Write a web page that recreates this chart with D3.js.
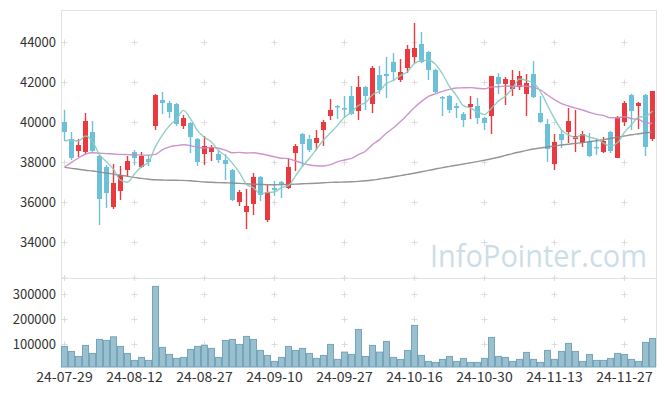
<!DOCTYPE html>
<html><head><meta charset="utf-8">
<script src="https://cdn.jsdelivr.net/npm/d3@7"></script>
<style>body{margin:0;background:#fff;} svg{display:block;font-family:"Noto Sans CJK KR","Noto Sans",sans-serif;}</style>
</head><body><svg id="c" width="665" height="396"></svg>
<script>
const dates=["24-07-29","24-07-30","24-07-31","24-08-01","24-08-02","24-08-05","24-08-06","24-08-07","24-08-08","24-08-09",
"24-08-12","24-08-13","24-08-14","24-08-16","24-08-19","24-08-20","24-08-21","24-08-22","24-08-23","24-08-26",
"24-08-27","24-08-28","24-08-29","24-08-30","24-09-02","24-09-03","24-09-04","24-09-05","24-09-06","24-09-09",
"24-09-10","24-09-11","24-09-12","24-09-13","24-09-19","24-09-20","24-09-23","24-09-24","24-09-25","24-09-26",
"24-09-27","24-09-30","24-10-02","24-10-04","24-10-07","24-10-08","24-10-10","24-10-11","24-10-14","24-10-15",
"24-10-16","24-10-17","24-10-18","24-10-21","24-10-22","24-10-23","24-10-24","24-10-25","24-10-28","24-10-29",
"24-10-30","24-10-31","24-11-01","24-11-04","24-11-05","24-11-06","24-11-07","24-11-08","24-11-11","24-11-12",
"24-11-13","24-11-14","24-11-15","24-11-18","24-11-19","24-11-20","24-11-21","24-11-22","24-11-25","24-11-26",
"24-11-27","24-11-28","24-11-29","24-12-02","24-12-03"];
const open=[40000,39150,38550,38500,39500,38300,37750,35750,36550,37600,
38500,37750,38150,39800,41100,40950,40900,39800,39950,39150,
38400,38500,38400,38100,37600,36000,35500,35900,37250,35100,
36700,37000,36700,38450,39400,39150,38950,39600,40300,40800,
40700,41300,40550,41750,40900,42350,42400,43000,42100,42700,
43250,43900,43500,42600,41250,41300,40800,40400,40750,40800,
40200,40300,42250,41900,41650,41750,41400,42400,40450,39900,
37900,39400,39500,39150,38950,39050,38750,38500,39500,38200,
40000,41350,40800,41350,39150];
const high=[40600,39500,39150,40450,40050,38350,37850,37900,37800,38300,
38600,38500,38300,41400,41500,41050,40950,40350,40000,39200,
39300,38850,38600,38400,37650,36600,36650,37450,37300,36850,
37050,37050,38200,38900,39450,39350,39600,40100,41150,40850,
41300,41800,42300,41800,42800,42800,43250,43450,43150,43850,
44950,44500,43550,42650,41300,41350,40950,40500,41300,41200,
40250,42300,42450,42250,42600,42550,42400,43050,41300,40150,
39400,39600,40700,40600,39550,39450,39150,39250,39550,40300,
41050,41400,41000,41400,41550];
const low=[39050,38100,38250,38400,38450,34850,35700,35650,36100,37300,
37850,37700,37800,39600,40400,40200,39800,39650,38450,37800,
37850,38050,37950,37100,36050,35800,34650,35350,36050,35000,
36300,36200,36650,37550,37750,38500,38600,38800,40100,40150,
40200,40350,40100,40600,40450,41400,41200,42050,42000,42450,
42950,42950,42100,41450,40300,40450,40200,39750,40150,39900,
39600,39400,41400,40850,41300,41600,40300,41200,39950,38000,
37600,38700,38950,38500,38750,38250,38350,38450,38450,38200,
39800,39600,39650,38300,39050];
const close=[39500,38200,38850,40050,38550,36150,36450,36950,37350,38050,
38200,38300,38000,41350,40950,40500,39900,40200,39250,38000,
38800,38750,38100,37900,36100,36500,35800,37250,36350,36500,
36600,36900,37750,38800,38900,38600,39200,40000,40600,40750,
40650,40400,41750,41300,42700,41600,42300,42500,42500,43650,
43700,43000,42600,41500,41200,40600,40700,40100,40900,40200,
39950,42300,41900,42150,42100,42300,41950,41250,40000,38650,
39000,39100,40050,39300,39400,38300,38700,39050,38550,40200,
40950,40550,40950,38750,41550];
const volume=[91800,71900,52000,95800,64000,119700,115700,130000,91800,64000,
36200,48100,36200,330400,87900,60000,44100,48100,79900,91800,
95800,83900,48100,115700,119700,99800,131600,119700,75900,56100,
32200,48100,91800,75900,83900,64000,44100,56100,99800,40200,
69200,60000,159400,52000,95800,69200,111700,48100,40200,75900,
175300,56100,32200,28200,40200,52000,32200,44100,28200,28200,
44100,127600,52000,48100,32200,40200,68000,40200,28200,75900,
40200,71900,103800,71900,32200,60000,36200,36200,44100,64000,
60000,40200,32200,107800,123700];
const ma5=[39050,39100,39050,39300,39030,38360,38010,37630,37090,36990,
37400,37770,37980,38780,39360,39820,40140,40580,40160,39570,
39230,39000,38580,38310,37930,37470,36880,36710,36400,36480,
36500,36720,36820,37310,37790,38190,38650,39100,39460,39830,
40240,40480,40830,40970,41360,41550,41930,42080,42320,42510,
42930,43070,43090,42890,42400,41780,41320,40820,40700,40500,
40370,40690,41050,41300,41680,42150,42080,41950,41520,40830,
40170,39600,39360,39220,39370,39230,39150,38950,38800,38960,
39490,39860,40240,40280,40550];
const ma20=[37750,37980,38200,38400,38460,38440,38420,38400,38380,38370,
38360,38350,38340,38380,38620,38760,38820,38860,38820,38740,
38700,38730,38690,38590,38460,38480,38450,38460,38410,38340,
38260,38190,38170,38050,37940,37850,37810,37800,37870,38010,
38100,38180,38370,38540,38870,39120,39450,39710,40020,40370,
40730,41030,41280,41410,41530,41630,41700,41710,41720,41690,
41660,41750,41760,41800,41770,41810,41790,41730,41600,41350,
41120,40920,40800,40690,40600,40480,40380,40330,40210,40210,
40260,40170,40130,39960,39930];
const maLong=[37730,37680,37640,37590,37550,37500,37450,37390,37340,37280,
37230,37180,37140,37110,37100,37090,37085,37080,37060,37030,
37000,36985,36970,36960,36950,36930,36910,36890,36875,36865,
36865,36870,36880,36895,36910,36925,36940,36960,36980,36990,
37000,37010,37030,37060,37100,37150,37200,37260,37320,37380,
37440,37510,37580,37650,37720,37780,37840,37900,37960,38020,
38090,38160,38240,38330,38420,38500,38580,38650,38700,38750,
38800,38850,38890,38930,38970,39020,39060,39120,39180,39240,
39300,39360,39410,39460,39500];
const priceTicks=[34000,36000,38000,40000,42000,44000];
const volTicks=[100000,200000,300000];
const xTickIdx=[0,10,20,30,40,50,60,70,80];

const svg=d3.select("#c");
const L=61,R=656,T=10,MB=278,VT=280,VB=367;
const x=d3.scaleBand().domain(d3.range(dates.length)).range([L,R]).padding(0);
const cx=i=>x(i)+x.bandwidth()/2;
const y=d3.scaleLinear().domain([32200,45600]).range([MB,T]);
const yv=d3.scaleLinear().domain([10000,356000]).range([VB,VT]);
const UP="#ea3a3f", DOWN="#6cc1d9";

// watermark
svg.append("text").attr("x",430).attr("y",267).attr("font-family","'Open Sans',sans-serif")
  .attr("font-size",31).attr("fill","#cddde7").attr("textLength",217).attr("lengthAdjust","spacingAndGlyphs")
  .text("InfoPointer.com");

// frame
const g=svg.append("g");
const frame="#e3e3e3";
g.append("line").attr("x1",L).attr("x2",R).attr("y1",T+0.5).attr("y2",T+0.5).attr("stroke",frame);
g.append("line").attr("x1",L).attr("x2",R).attr("y1",MB+0.5).attr("y2",MB+0.5).attr("stroke",frame);
g.append("line").attr("x1",L+0.5).attr("x2",L+0.5).attr("y1",T).attr("y2",VB).attr("stroke",frame);
g.append("line").attr("x1",R+0.5).attr("x2",R+0.5).attr("y1",T).attr("y2",VB).attr("stroke",frame);

// grid plus marks
function plus(px,py){
  g.append("path").attr("d",`M${px-3},${py}H${px+3}M${px},${py-3}V${py+3}`).attr("stroke","#dcdcdc").attr("stroke-width",1);
}
xTickIdx.forEach(i=>{
  priceTicks.forEach(t=>plus(Math.round(cx(i))-0.5,Math.round(y(t))+0.5));
  volTicks.forEach(t=>plus(Math.round(cx(i))-0.5,Math.round(yv(t))+0.5));
  plus(Math.round(cx(i))-0.5,MB);
});

// y labels
svg.append("g").selectAll("text").data(priceTicks).join("text")
  .attr("x",56).attr("y",d=>y(d)).attr("dy","0.35em").attr("text-anchor","end")
  .attr("font-size",13).attr("fill","#333").text(d=>d);
svg.append("g").selectAll("text").data(volTicks).join("text")
  .attr("x",56).attr("y",d=>yv(d)).attr("dy","0.35em").attr("text-anchor","end")
  .attr("font-size",13).attr("fill","#333").text(d=>d);
// x labels
svg.append("g").selectAll("text").data(xTickIdx).join("text")
  .attr("x",i=>cx(i)).attr("y",382).attr("text-anchor","middle")
  .attr("font-size",14).attr("fill","#333").text(i=>dates[i]);

// volume bars
svg.append("g").selectAll("rect").data(volume).join("rect")
  .attr("x",(d,i)=>x(i)+0.5).attr("width",x.bandwidth()-1)
  .attr("y",d=>yv(d)).attr("height",d=>VB-yv(d))
  .attr("fill","#9ac0d0").attr("stroke","#74a5bb").attr("stroke-width",1);

// candles
const idx=d3.range(dates.length);
const cg=svg.append("g");
cg.selectAll("line").data(idx).join("line")
  .attr("x1",i=>cx(i)).attr("x2",i=>cx(i))
  .attr("y1",i=>y(high[i])).attr("y2",i=>y(low[i]))
  .attr("stroke",i=>close[i]>=open[i]?UP:DOWN).attr("stroke-width",1.4);
cg.selectAll("rect").data(idx).join("rect")
  .attr("x",i=>cx(i)-2.5).attr("width",5)
  .attr("y",i=>y(Math.max(open[i],close[i])))
  .attr("height",i=>Math.max(1.5,Math.abs(y(open[i])-y(close[i]))))
  .attr("fill",i=>close[i]>=open[i]?UP:DOWN);

// moving averages
const line=arr=>d3.line().x((d,i)=>cx(i)).y(d=>y(d)).curve(d3.curveMonotoneX)(arr);
svg.append("path").attr("d",line(maLong)).attr("fill","none").attr("stroke","#8a8a8a").attr("stroke-width",1.4).attr("opacity",0.9);
svg.append("path").attr("d",line(ma20)).attr("fill","none").attr("stroke","#c98ac6").attr("stroke-width",1.4).attr("opacity",0.9);
svg.append("path").attr("d",line(ma5)).attr("fill","none").attr("stroke","#86cbbd").attr("stroke-width",1.4).attr("opacity",0.9);
</script></body></html>
